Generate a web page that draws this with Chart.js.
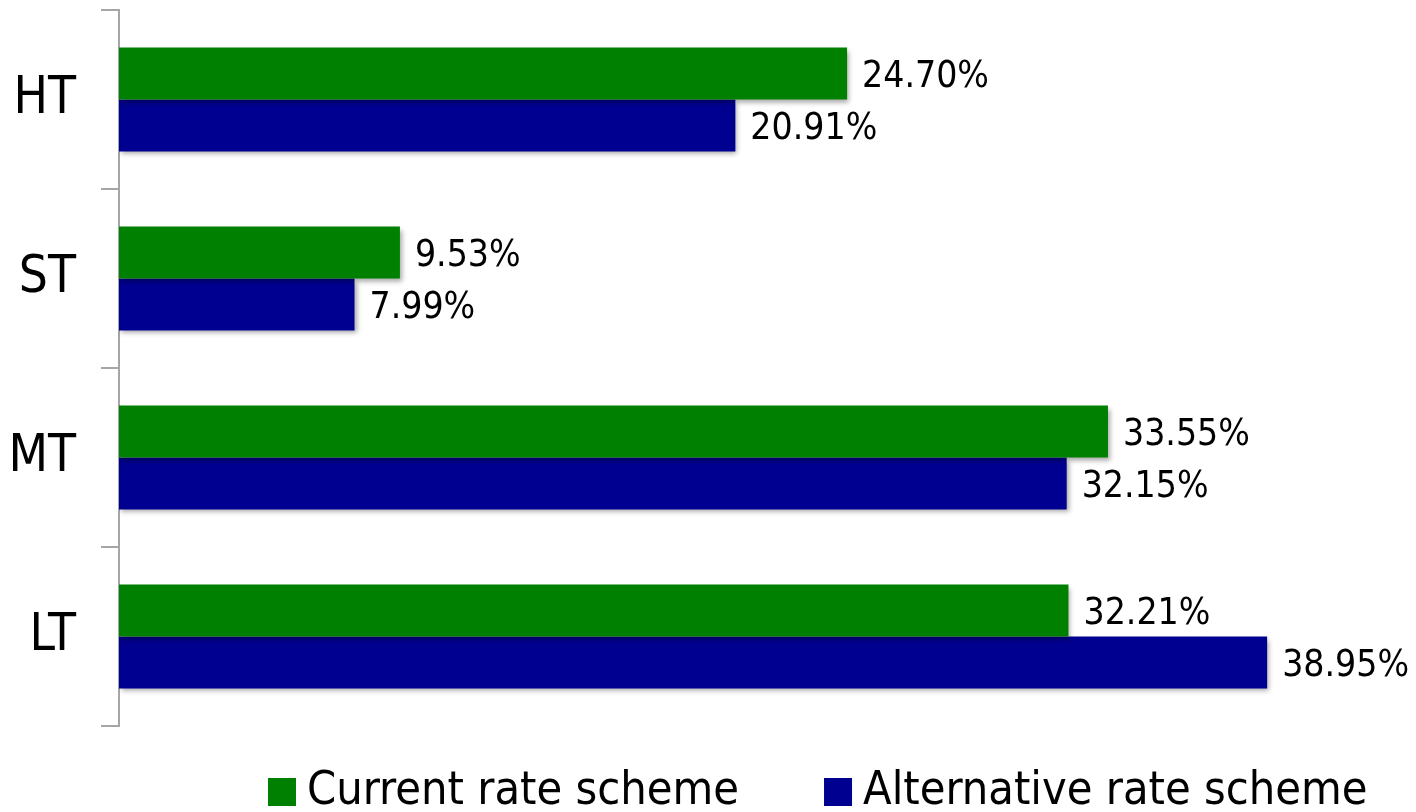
<!DOCTYPE html>
<html lang="en">
<head>
    <meta charset="UTF-8" />
    <title>Rate schemes</title>
    <script src="https://cdn.jsdelivr.net/npm/chart.js"></script>
    <style>
        html, body { margin: 0; padding: 0; background: #fff; }
        #wrap { width: 1416px; height: 812px; }
    </style>
</head>
<body>
    <div id="wrap"><canvas id="chart"></canvas></div>

    <script>
        const categories = ["HT", "ST", "MT", "LT"];
        const currentRate = [24.70, 9.53, 33.55, 32.21];
        const alternativeRate = [20.91, 7.99, 32.15, 38.95];

        const FONT = "'DejaVu Sans Condensed', 'DejaVu Sans', sans-serif";

        // soft drop shadow under the bars
        const barShadow = {
            id: "barShadow",
            beforeDatasetDraw(chart) {
                const ctx = chart.ctx;
                ctx.save();
                ctx.shadowColor = "rgba(0,0,0,0.35)";
                ctx.shadowBlur = 5;
                ctx.shadowOffsetX = 2;
                ctx.shadowOffsetY = 3;
            },
            afterDatasetDraw(chart) {
                chart.ctx.restore();
            }
        };

        // value labels just past the end of each bar
        const valueLabels = {
            id: "valueLabels",
            afterDatasetsDraw(chart) {
                const ctx = chart.ctx;
                ctx.save();
                ctx.font = "37px " + FONT;
                ctx.fillStyle = "#000";
                ctx.textAlign = "left";
                ctx.textBaseline = "middle";
                chart.data.datasets.forEach((ds, i) => {
                    chart.getDatasetMeta(i).data.forEach((bar, j) => {
                        ctx.fillText(ds.data[j].toFixed(2) + "%", bar.x + 15, bar.y + 4);
                    });
                });
                ctx.restore();
            }
        };

        // legend row under the plot: square swatch + series name
        const bottomLegend = {
            id: "bottomLegend",
            afterDraw(chart) {
                const ctx = chart.ctx;
                const box = 28;
                let x = 268;
                const yMid = 792;
                ctx.save();
                ctx.font = "46.5px " + FONT;
                ctx.textAlign = "left";
                ctx.textBaseline = "middle";
                chart.data.datasets.forEach(ds => {
                    ctx.fillStyle = ds.backgroundColor;
                    ctx.fillRect(x, yMid - box / 2, box, box);
                    x += box + 11;
                    ctx.fillStyle = "#000";
                    ctx.fillText(ds.label, x, yMid);
                    x += ctx.measureText(ds.label).width + 85;
                });
                ctx.restore();
            }
        };

        new Chart(document.getElementById("chart"), {
            type: "bar",
            data: {
                labels: categories,
                datasets: [
                    {
                        label: "Current rate scheme",
                        data: currentRate,
                        backgroundColor: "#008000",
                        categoryPercentage: 0.58,
                        barPercentage: 1
                    },
                    {
                        label: "Alternative rate scheme",
                        data: alternativeRate,
                        backgroundColor: "#000090",
                        categoryPercentage: 0.58,
                        barPercentage: 1
                    }
                ]
            },
            options: {
                indexAxis: "y",
                responsive: true,
                maintainAspectRatio: false,
                animation: false,
                layout: { padding: { top: 10, right: 0, left: 0, bottom: 86 } },
                scales: {
                    x: {
                        display: false,
                        min: 0,
                        max: 44
                    },
                    y: {
                        afterFit(scale) {
                            scale.width = 119;
                            scale.paddingTop = 0;
                            scale.paddingBottom = 0;
                        },
                        grid: {
                            offset: true,
                            drawOnChartArea: false,
                            drawTicks: true,
                            tickLength: 18,
                            color: "#a6a6a6",
                            lineWidth: 2
                        },
                        border: { display: true, color: "#a6a6a6", width: 2 },
                        ticks: {
                            color: "#000",
                            padding: 25,
                            font: { family: FONT, size: 51 }
                        }
                    }
                },
                plugins: {
                    tooltip: { enabled: false },
                    legend: { display: false }
                }
            },
            plugins: [barShadow, valueLabels, bottomLegend]
        });
    </script>
</body>
</html>
